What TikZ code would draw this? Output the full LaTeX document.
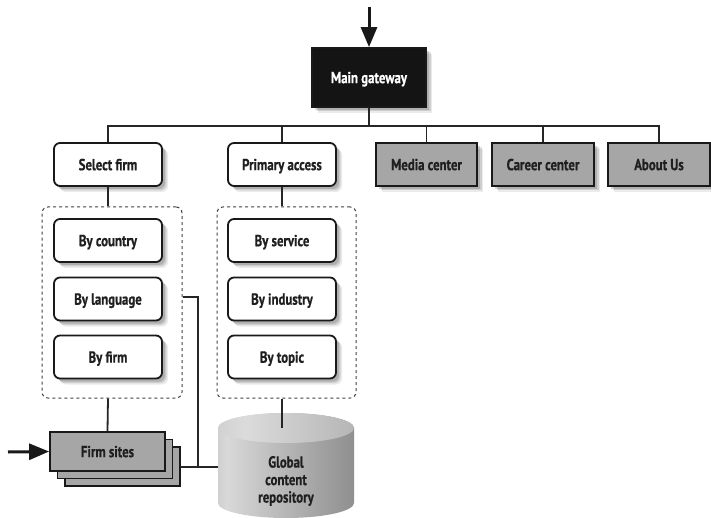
\documentclass[tikz,border=0pt]{standalone}
\usepackage{fontspec}
\setmainfont{PT Sans}[FakeStretch=0.8, FakeBold=0.6]
\usetikzlibrary{shadows,arrows.meta}
\pgfdeclarehorizontalshading{cylbody}{100bp}{color(0bp)=(black!48); color(28bp)=(black!15); color(65bp)=(black!38); color(100bp)=(black!58)}
\pgfdeclarehorizontalshading{cyltop}{100bp}{color(0bp)=(black!28); color(35bp)=(black!14); color(100bp)=(black!38)}
\tikzset{
  sh/.style={drop shadow={shadow xshift=6pt,shadow yshift=-6pt,fill=black,fill opacity=0.08},
             drop shadow={shadow xshift=4.5pt,shadow yshift=-4.5pt,fill=black,fill opacity=0.12},
             drop shadow={shadow xshift=3pt,shadow yshift=-3pt,fill=black,fill opacity=0.15}},
  txt/.style={font=\fontsize{16}{17.5}\selectfont\bfseries, text=black!88, align=center},
  base/.style={draw=black!90, line width=1.8pt, txt, inner sep=0pt, text depth=0pt},
  wbox/.style={base, rounded corners=6pt, fill=white, minimum width=108pt, minimum height=43pt, sh},
  gbox/.style={base, fill=black!35, minimum height=43pt, sh},
  stackbox/.style={base, fill=black!35, minimum width=115pt, minimum height=39pt},
  dashbox/.style={draw=black!75, dashed, line width=1pt, rounded corners=6pt, minimum width=140pt, minimum height=191pt},
  conn/.style={draw=black!85, line width=1.8pt},
  bigarrow/.style={draw=black!90, line width=3pt, -{Triangle[length=20pt,width=16pt]}},
}
\begin{document}
\begin{tikzpicture}[x=1pt,y=1pt]
\useasboundingbox (0,0) rectangle (711,-518);
% top nodes
\node[base, fill=black!92, text=white, minimum width=114pt, minimum height=59pt, sh] (main) at (369,-77.5) {Main gateway};
\node[wbox] (sel) at (108,-164.5) {Select firm};
\node[wbox] (pri) at (282,-164.5) {Primary access};
\node[gbox, minimum width=101pt] (media) at (426.5,-164.5) {Media center};
\node[gbox, minimum width=102pt] (career) at (543,-164.5) {Career center};
\node[gbox, minimum width=102pt] (about) at (659,-164.5) {About Us};
% dashed groups
\node[dashbox] (dl) at (112,-302.5) {};
\node[dashbox, minimum width=139pt] (dr) at (286.5,-302.5) {};
\node[wbox] (bc) at (108,-240.5) {By country};
\node[wbox] (bl) at (108,-299) {By language};
\node[wbox] (bf) at (108,-357) {By firm};
\node[wbox] (bs) at (282,-240.5) {By service};
\node[wbox] (bi) at (282,-299) {By industry};
\node[wbox] (bt) at (282,-357) {By topic};
% firm sites stack
\node[stackbox] (fs3) at (122.5,-466.5) {};
\node[stackbox] (fs2) at (115,-459) {};
\node[stackbox] (fs) at (107.5,-451.5) {Firm sites};
% cylinder
\shade[shading=cylbody] (218,-428) -- (218,-503) arc[start angle=180,end angle=360,x radius=68pt,y radius=15pt] -- (354,-428) arc[start angle=0,end angle=180,x radius=68pt,y radius=15pt] -- cycle;
\shade[shading=cyltop] (286,-428) ellipse[x radius=68pt,y radius=15pt];
\node[txt, inner sep=0pt] (gcr) at (286,-481) {Global\\content\\repository};
\coordinate (cyltopc) at (282,-428);
\coordinate (cylleft) at (218,-467);
\coordinate (j) at (198,-467);
\coordinate (bus) at (0,-126);
\coordinate (topin) at (369,-7);
\coordinate (leftin) at (8,-452);
% connectors
\draw[conn] (main.south) -- (main.south |- bus);
\draw[conn] (sel.north) -- (sel.north |- bus) -- (about.north |- bus) -- (about.north);
\draw[conn] (pri.north) -- (pri.north |- bus);
\draw[conn] (media.north) -- (media.north |- bus);
\draw[conn] (career.north) -- (career.north |- bus);
\draw[conn] (sel.south) -- (sel.south |- dl.north);
\draw[conn] (pri.south) -- (pri.south |- dr.north);
\draw[conn] (dl.south -| sel) -- (fs.north);
\draw[conn] (dr.south -| pri) -- (cyltopc);
\draw[conn] (dl.east |- 0,-297) -- (j |- 0,-297) -- (j);
\draw[conn] (fs3.east |- j) -- (cylleft);
\draw[bigarrow] (topin) -- (main.north);
\draw[bigarrow] (leftin) -- (fs.west);
\end{tikzpicture}
\end{document}
